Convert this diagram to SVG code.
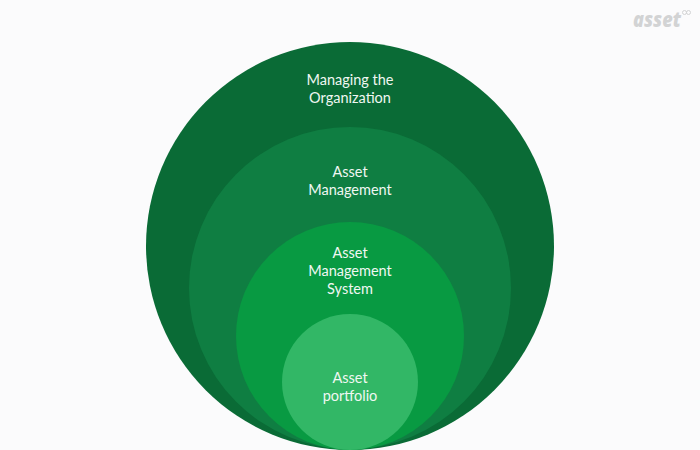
<svg xmlns="http://www.w3.org/2000/svg" width="700" height="450" viewBox="0 0 700 450">
<style>
text{font-family:"Lato","Open Sans","Liberation Sans",sans-serif;font-size:14.5px;fill:#f0f7f2;text-anchor:middle}
.logo{font-family:"Open Sans","Liberation Sans",sans-serif;font-size:21px;font-weight:800;font-style:italic;fill:#d2d3d4;text-anchor:start}
</style>
<rect width="700" height="450" fill="#fbfbfc"/>
<g id="node-organization"><circle cx="350" cy="246" r="204" fill="#0a6b36"/><text x="350" y="85">Managing the</text><text x="350" y="103">Organization</text></g>
<g id="node-management"><circle cx="350" cy="288" r="161" fill="#0f7e42"/><text x="350" y="177">Asset</text><text x="350" y="195">Management</text></g>
<g id="node-system"><circle cx="350" cy="336" r="114" fill="#089a42"/><text x="350" y="258">Asset</text><text x="350" y="276">Management</text><text x="350" y="294">System</text></g>
<g id="node-portfolio"><circle cx="350" cy="382" r="68" fill="#32b766"/><text x="350" y="383">Asset</text><text x="350" y="401">portfolio</text></g>
<g id="logo"><text class="logo" x="633" y="27" textLength="48" lengthAdjust="spacingAndGlyphs">asset</text><g fill="none" stroke="#d2d3d4" stroke-width="1"><circle cx="684.5" cy="12.5" r="2"/><circle cx="688.5" cy="12.5" r="2"/></g></g>
<g id="connectors"/>
</svg>
